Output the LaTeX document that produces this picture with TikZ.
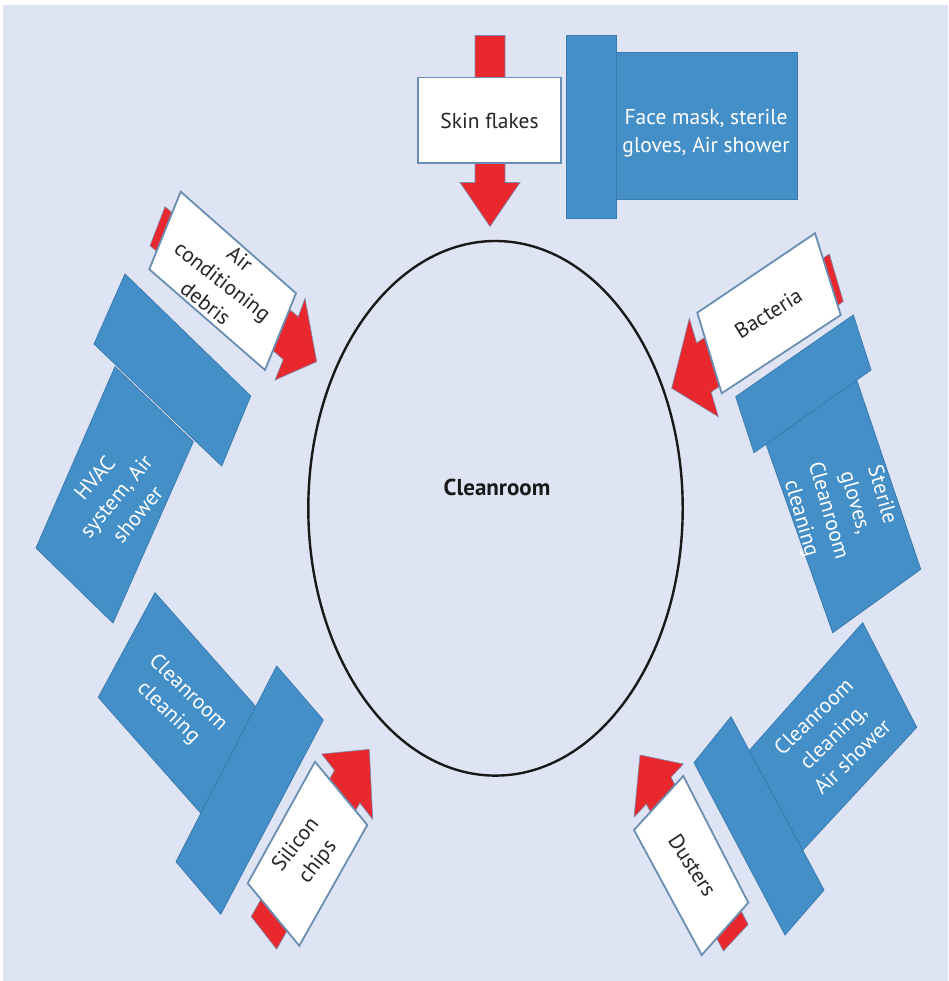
\documentclass[tikz,border=0pt]{standalone}
\usepackage{fontspec}
\setmainfont{PT Sans}
\begin{document}
\definecolor{pagebg}{RGB}{223,228,244}
\definecolor{blockblue}{RGB}{68,143,200}
\definecolor{blockedge}{RGB}{58,122,176}
\definecolor{flowred}{RGB}{233,40,46}
\definecolor{flowedge}{RGB}{120,140,175}
\definecolor{boxedge}{RGB}{106,141,178}
\tikzset{
  block/.style={fill=blockblue, draw=blockedge, line width=0.8pt, line join=miter},
  flow/.style={fill=flowred, draw=flowedge, line width=0.6pt, line join=miter},
  source/.style={fill=white, draw=boxedge, line width=1.8pt, line join=miter},
  srctext/.style={text=black!85, align=center, font=\fontsize{21.5}{28}\selectfont, inner sep=0pt},
  ctrltext/.style={text=white, align=center, font=\fontsize{21.5}{28}\selectfont, inner sep=0pt},
}
\begin{tikzpicture}[x=1pt,y=-1pt]
\useasboundingbox (0,0) rectangle (948,981);
\fill[white] (0,0) rectangle (948,981);
\fill[pagebg] (3.3,5) rectangle (948,981);

% the room itself
\draw[line width=2.4pt, black!90] (495.5,508.3) ellipse [x radius=187.2pt, y radius=267.3pt];
\node[text=black!90, font=\bfseries\fontsize{23}{26}\selectfont] (room) at (497,487) {Cleanroom};

% ---- top: skin flakes
\draw[block] (616,52.5) rectangle (797,199);
\draw[block] (566,35.5) rectangle (616,218.5);
\draw[flow] (475,35.5) -- (505,35.5) -- (505,182.5) -- (520,182.5) -- (490,226.5)
  -- (460,182.5) -- (475,182.5) -- cycle;
\draw[source] (418,77.5) rectangle (561,163.3);
\node[srctext] (skin) at (489.5,120.5) {Skin flakes};
\node[ctrltext] (mask) at (706,133) {Face mask, sterile\\gloves, Air shower};

% ---- upper left: air conditioning debris
\draw[block] (115,366.7) -- (193.3,441.7) -- (113,623) -- (36,548) -- cycle;
\draw[block] (125,274) -- (250.7,396) -- (221.7,466) -- (94,344) -- cycle;
\draw[flow] (165,206.7) -- (298.3,316.7) -- (305,298.3) -- (316.7,361.7) -- (275,380)
  -- (283.3,359.5) -- (150,245.7) -- cycle;
\draw[source] (180.7,191.7) -- (296,293.3) -- (265,370) -- (149.3,269.3) -- cycle;
\node[srctext, rotate=-38] (acd) at (222.9,280.9) {Air\\conditioning\\debris};
\node[ctrltext, rotate=50] (hvac) at (116,496) {HVAC\\system, Air\\shower};

% ---- upper right: bacteria
\draw[block] (766,444) -- (856.7,380) -- (920.7,569.3) -- (832.7,632.7) -- cycle;
\draw[block] (853.3,315) -- (871,370) -- (754,452.7) -- (735.7,396.7) -- cycle;
\draw[flow] (829.3,254) -- (696.6,342.9) -- (689.3,318.3) -- (671.7,388.3) -- (718.3,416.7)
  -- (711.1,392.1) -- (843.3,301.5) -- cycle;
\draw[source] (815,233.3) -- (840.7,315) -- (721.7,393.3) -- (697.3,312.7) -- cycle;
\node[srctext, rotate=32] (bact) at (768.4,313.3) {Bacteria};
\node[ctrltext, rotate=-74] (glove) at (841,506.7) {Sterile\\gloves,\\Cleanroom\\cleaning};

% ---- lower left: silicon chips
\draw[block] (155,592.7) -- (255.8,706.7) -- (200.9,813.3) -- (98.3,697.3) -- cycle;
\draw[block] (276.7,666) -- (323.3,720) -- (220.7,914.3) -- (176,861.7) -- cycle;
\draw[flow] (251.2,916.5) -- (334.5,770.3) -- (321.7,754) -- (369.3,749.3) -- (372.7,819.3)
  -- (359.9,803) -- (276.6,949.2) -- cycle;
\draw[source] (315,761.7) -- (367.3,825) -- (299.3,945.7) -- (247.7,883.3) -- cycle;
\node[srctext, rotate=52] (chips) at (307.2,853.7) {Silicon\\chips};
\node[ctrltext, rotate=-44] (clean) at (178,703) {Cleanroom\\cleaning};

% ---- lower right: dusters
\draw[block] (862.7,622.7) -- (916.7,727.3) -- (802.7,850.3) -- (749.3,750.5) -- cycle;
\draw[block] (731,716.7) -- (824,890) -- (785,935) -- (694,762.7) -- cycle;
\draw[flow] (748.1,924.4) -- (671,777.3) -- (683.3,764) -- (640,755) -- (634,817.3)
  -- (646.3,804) -- (723.4,951.1) -- cycle;
\draw[source] (683.3,776) -- (748.3,902.7) -- (701.7,955) -- (634,830) -- cycle;
\node[srctext, rotate=-57] (dust) at (692.5,865.5) {Dusters};
\node[ctrltext, rotate=44] (shower) at (832.7,736.5) {Cleanroom\\cleaning,\\Air shower};
\end{tikzpicture}
\end{document}
